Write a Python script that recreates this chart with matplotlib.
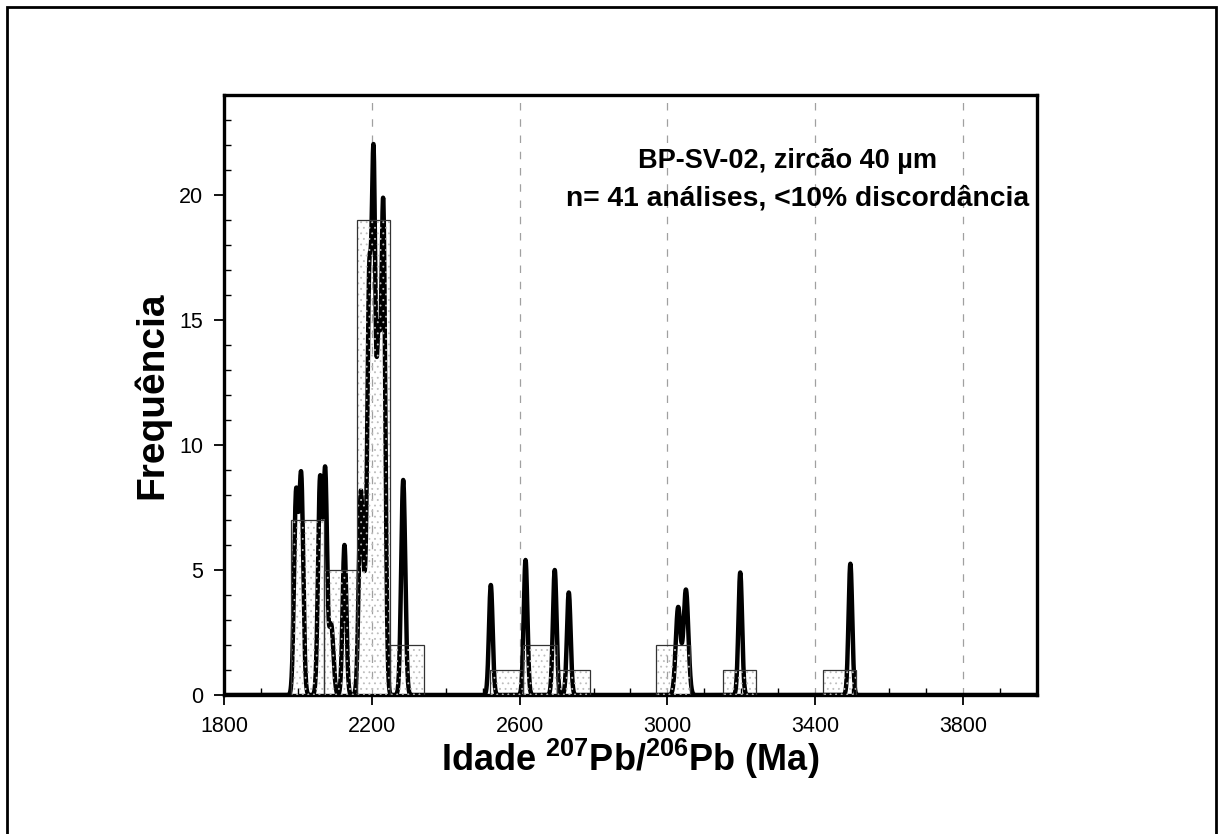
import numpy as np
import matplotlib.pyplot as plt
from matplotlib.patches import Rectangle
from matplotlib.ticker import MultipleLocator, FixedLocator

# histogram: bin left edges (Ma) and number of analyses per bin
bin_left = [1980, 2070, 2160, 2250, 2520, 2610, 2700, 2970, 3150, 3420]
bin_width = 90
counts = [7, 5, 19, 2, 1, 2, 1, 2, 1, 1]

# probability curve, components (age, sigma, height)
peak_age = [1995, 2009, 2060, 2074, 2090, 2126, 2170, 2180, 2193, 2205, 2218,
            2231, 2285, 2522, 2616, 2695, 2733, 3029, 3050, 3197, 3495]
peak_sigma = [5.5, 5.5, 5.5, 5.0, 6.0, 5.0, 5.5, 5.0, 5.5, 5.0, 5.0,
              5.5, 5.5, 5.0, 5.0, 5.0, 5.0, 6.5, 6.5, 5.0, 5.0]
peak_height = [7.9, 8.6, 8.6, 8.7, 2.8, 6.0, 7.8, 2.5, 16.0, 20.0, 13.0,
               19.4, 8.6, 4.4, 5.4, 5.0, 4.1, 3.5, 4.2, 4.9, 5.25]

x_ticks = [1800, 2200, 2600, 3000, 3400, 3800]

plt.rcParams['font.family'] = ['Liberation Sans', 'DejaVu Sans']
plt.rcParams['mathtext.fontset'] = 'custom'
plt.rcParams['mathtext.rm'] = 'Liberation Sans'
plt.rcParams['mathtext.bf'] = 'Liberation Sans:bold'
plt.rcParams['hatch.linewidth'] = 0.6

fig = plt.figure(figsize=(12.18, 8.34), dpi=100)
ax = fig.add_axes([0.1839, 0.1667, 0.6675, 0.7194])

# curve
ages = np.linspace(1800, 4000, 4401)
curve = np.zeros_like(ages)
for c, s, h in zip(peak_age, peak_sigma, peak_height):
    curve += h * np.exp(-0.5 * ((ages - c) / s) ** 2)
ax.plot(ages, curve, color='black', lw=3.2, zorder=2)

# bars: dotted fill on top of the curve, then thin outline
ax.bar(bin_left, counts, width=bin_width, align='edge', facecolor='none',
       edgecolor='#bdbdbd', lw=0, hatch='...', zorder=3)
ax.bar(bin_left, counts, width=bin_width, align='edge', facecolor='none',
       edgecolor='#333333', lw=0.9, zorder=3)

ax.set_xlim(1800, 4000)
ax.set_ylim(0, 24)
ax.xaxis.set_major_locator(FixedLocator(x_ticks))
ax.xaxis.set_minor_locator(MultipleLocator(100))
ax.yaxis.set_major_locator(MultipleLocator(5))
ax.yaxis.set_minor_locator(MultipleLocator(1))
ax.xaxis.grid(True, which='major', color='#a0a0a0', linestyle=(0, (6, 7)), lw=0.9)
ax.set_axisbelow(True)

ax.tick_params(which='major', direction='out', length=7, width=1.3,
               labelsize=15.5, pad=8)
ax.tick_params(which='minor', direction='in', length=5, width=1.0)
for sp in ax.spines.values():
    sp.set_linewidth(2.4)

ax.set_xlabel(r'Idade $^{\mathbf{207}}$Pb/$^{\mathbf{206}}$Pb (Ma)',
              fontsize=26, fontweight='bold', labelpad=0)
ax.set_ylabel('Frequência', fontsize=28, fontweight='bold', labelpad=6)

ax.text(0.693, 0.89, 'BP-SV-02, zircão 40 µm', transform=ax.transAxes,
        ha='center', va='center', fontsize=19.5, fontweight='bold')
ax.text(0.705, 0.828, 'n= 41 análises, <10% discordância', transform=ax.transAxes,
        ha='center', va='center', fontsize=20.3, fontweight='bold')

# outer frame
fig.add_artist(Rectangle((7 / 1218, -0.01), 1209 / 1218, 1.01 - 7 / 834,
                         transform=fig.transFigure, fill=False,
                         edgecolor='black', lw=2))

fig.savefig('out.png', dpi=100)
